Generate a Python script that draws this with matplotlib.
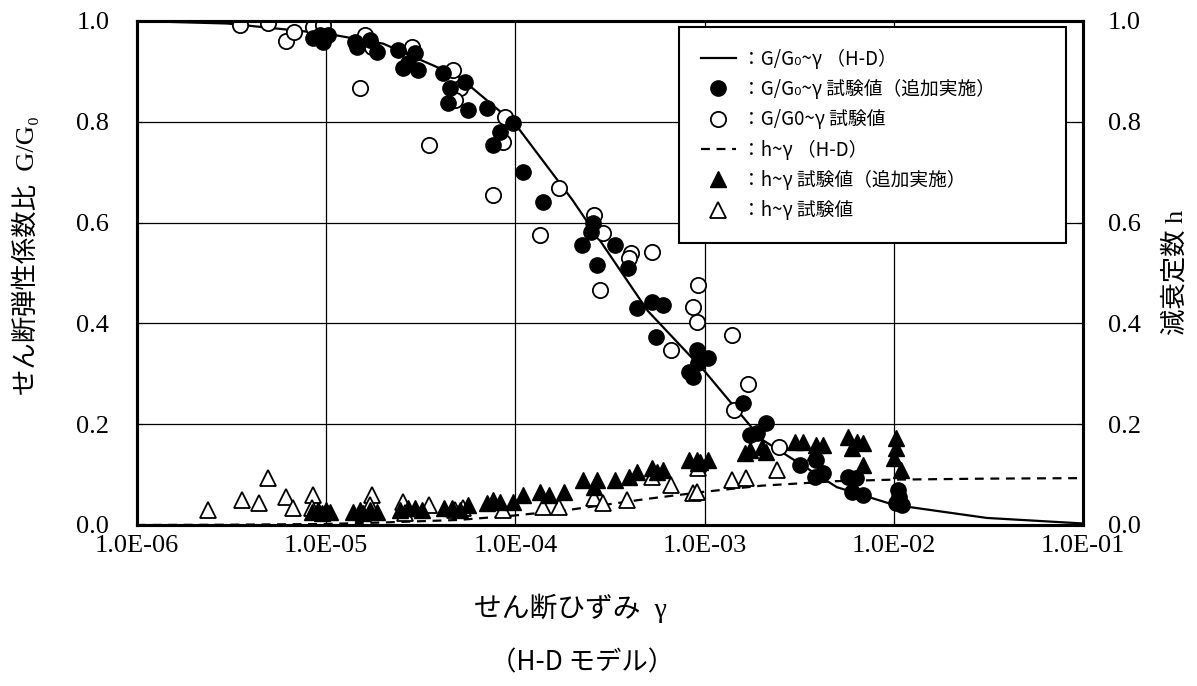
import matplotlib

matplotlib.use("Agg")

import matplotlib.pyplot as plt
from matplotlib.lines import Line2D
from matplotlib.font_manager import FontProperties

plt.rcParams['font.family'] = ['Liberation Serif', 'Noto Sans CJK JP', 'DejaVu Serif']

# H-D model curves
hd_strain = [1e-6, 3e-6, 1e-5, 2e-5, 5e-5, 1e-4, 2e-4, 5e-4, 1e-3, 2e-3, 5e-3, 1e-2, 3.1e-2, 1e-1]
hd_g = [1.0, 0.995, 0.975, 0.955, 0.89, 0.795, 0.645, 0.425, 0.305, 0.17, 0.075, 0.040, 0.014, 0.003]
hd_h = [0.0, 0.0005, 0.002, 0.005, 0.010, 0.019, 0.031, 0.052, 0.066, 0.078, 0.087, 0.090, 0.092, 0.093]

# G/G0 test values (additional)
g_add_x = [8.5e-6, 9.6e-6, 1.02e-5, 9.3e-6, 1.42e-5, 1.45e-5, 1.7e-5, 1.86e-5, 2.4e-5, 2.55e-5,
           2.95e-5, 3.05e-5, 2.7e-5, 4.14e-5, 4.5e-5, 4.4e-5, 5.4e-5, 5.6e-5, 7.1e-5, 8.3e-5,
           7.6e-5, 9.7e-5, 1.1e-4, 1.4e-4, 2.57e-4, 2.5e-4, 2.25e-4, 3.36e-4, 2.7e-4, 3.94e-4,
           5.3e-4, 6.0e-4, 4.4e-4, 5.5e-4, 9.1e-4, 1.04e-3, 8.7e-4, 8.3e-4, 9.2e-4, 1.6e-3,
           2.1e-3, 1.73e-3, 1.9e-3, 3.2e-3, 3.9e-3, 4.2e-3, 3.85e-3, 5.7e-3, 6.3e-3, 6.0e-3,
           6.9e-3, 1.05e-2, 1.03e-2, 1.1e-2, 1.07e-2]
g_add_y = [0.966, 0.958, 0.972, 0.972, 0.958, 0.948, 0.962, 0.938, 0.943, 0.907,
           0.936, 0.903, 0.917, 0.897, 0.867, 0.837, 0.879, 0.823, 0.827, 0.780,
           0.754, 0.798, 0.700, 0.641, 0.599, 0.581, 0.556, 0.556, 0.516, 0.510,
           0.442, 0.437, 0.431, 0.373, 0.347, 0.331, 0.294, 0.304, 0.321, 0.242,
           0.202, 0.179, 0.183, 0.119, 0.129, 0.103, 0.095, 0.095, 0.093, 0.065,
           0.060, 0.069, 0.044, 0.040, 0.056]

# G/G0 test values
g_test_x = [3.5e-6, 4.9e-6, 6.1e-6, 6.75e-6, 8.5e-6, 9.6e-6, 1.6e-5, 1.5e-5, 1.75e-5, 2.85e-5,
            4.7e-5, 5.1e-5, 4.8e-5, 3.5e-5, 8.8e-5, 8.6e-5, 7.6e-5, 1.35e-4, 1.7e-4, 2.6e-4,
            2.9e-4, 2.8e-4, 4.1e-4, 4.0e-4, 5.3e-4, 6.6e-4, 9.2e-4, 8.7e-4, 9.1e-4, 1.4e-3,
            1.43e-3, 1.7e-3, 2.47e-3]
g_test_y = [0.992, 0.996, 0.960, 0.978, 0.988, 0.992, 0.972, 0.867, 0.948, 0.948,
            0.903, 0.867, 0.843, 0.754, 0.810, 0.760, 0.655, 0.575, 0.669, 0.615,
            0.579, 0.466, 0.540, 0.530, 0.542, 0.347, 0.476, 0.433, 0.403, 0.377,
            0.228, 0.280, 0.155]

# h test values (additional)
h_add_x = [8.4e-6, 9.0e-6, 1.0e-5, 9.5e-6, 1.05e-5, 1.38e-5, 1.5e-5, 1.7e-5, 1.86e-5, 1.57e-5,
           2.45e-5, 2.7e-5, 2.95e-5, 3.2e-5, 4.2e-5, 4.6e-5, 5.6e-5, 5.1e-5, 7.1e-5, 7.6e-5,
           8.3e-5, 9.7e-5, 1.1e-4, 1.34e-4, 1.5e-4, 1.8e-4, 2.27e-4, 2.7e-4, 2.6e-4, 3.36e-4,
           4.0e-4, 4.4e-4, 5.3e-4, 5.6e-4, 6.0e-4, 8.3e-4, 9.1e-4, 1.04e-3, 9.2e-4, 9.5e-4,
           1.73e-3, 1.63e-3, 2.0e-3, 2.1e-3, 3.0e-3, 3.3e-3, 3.9e-3, 4.2e-3, 3.85e-3, 5.7e-3,
           6.0e-3, 6.4e-3, 6.9e-3, 6.9e-3, 1.03e-2, 1.03e-2, 1.0e-2, 1.09e-2]
h_add_y = [0.026, 0.030, 0.030, 0.024, 0.026, 0.026, 0.030, 0.030, 0.026, 0.024,
           0.030, 0.034, 0.034, 0.030, 0.034, 0.034, 0.040, 0.030, 0.044, 0.050,
           0.046, 0.046, 0.060, 0.065, 0.060, 0.065, 0.089, 0.089, 0.075, 0.089,
           0.095, 0.105, 0.113, 0.105, 0.109, 0.129, 0.129, 0.129, 0.123, 0.125,
           0.149, 0.143, 0.155, 0.145, 0.165, 0.165, 0.159, 0.159, 0.145, 0.175,
           0.153, 0.165, 0.163, 0.119, 0.173, 0.153, 0.133, 0.109]

# h test values
h_test_x = [2.37e-6, 3.6e-6, 4.4e-6, 4.9e-6, 6.1e-6, 6.7e-6, 8.5e-6, 8.4e-6, 1.75e-5, 1.7e-5,
            2.55e-5, 2.6e-5, 3.5e-5, 4.8e-5, 5.3e-5, 8.6e-5, 1.4e-4, 1.7e-4, 2.6e-4, 2.9e-4,
            3.9e-4, 5.3e-4, 6.6e-4, 8.7e-4, 9.1e-4, 9.2e-4, 1.4e-3, 1.65e-3, 2.4e-3]
h_test_y = [0.030, 0.050, 0.044, 0.093, 0.056, 0.034, 0.060, 0.034, 0.060, 0.040,
            0.046, 0.024, 0.040, 0.030, 0.034, 0.030, 0.036, 0.036, 0.054, 0.044,
            0.050, 0.095, 0.079, 0.063, 0.065, 0.113, 0.089, 0.093, 0.109]

x_ticks = [1e-6, 1e-5, 1e-4, 1e-3, 1e-2, 1e-1]
x_tick_labels = ["1.0E-06", "1.0E-05", "1.0E-04", "1.0E-03", "1.0E-02", "1.0E-01"]
y_ticks = [0.0, 0.2, 0.4, 0.6, 0.8, 1.0]
y_tick_labels = ["0.0", "0.2", "0.4", "0.6", "0.8", "1.0"]

fig = plt.figure(figsize=(11.97, 6.86), dpi=100)
ax = fig.add_axes([0.1145, 0.2347, 0.7903, 0.7347])
ax2 = ax.twinx()

ax.set_xscale('log')
ax.set_xlim(1e-6, 1e-1)
ax.set_ylim(0, 1)
ax2.set_ylim(0, 1)

ax.grid(True, color='black', linewidth=0.9)
ax.minorticks_off()
ax.set_axisbelow(True)

ax.plot(hd_strain, hd_g, color='black', linewidth=1.6, zorder=3)
ax2.plot(hd_strain, hd_h, color='black', linewidth=1.6, linestyle=(0, (4, 3)), zorder=3)

ax.plot(g_test_x, g_test_y, 'o', ms=11, mfc='white', mec='black', mew=1.3, zorder=4)
ax.plot(g_add_x, g_add_y, 'o', ms=11, mfc='black', mec='black', zorder=5)
ax2.plot(h_test_x, h_test_y, '^', ms=12, mfc='white', mec='black', mew=1.3, zorder=4)
ax2.plot(h_add_x, h_add_y, '^', ms=12, mfc='black', mec='black', zorder=5)

ax.set_xticks(x_ticks)
ax.set_xticklabels(x_tick_labels)
ax.set_yticks(y_ticks)
ax.set_yticklabels(y_tick_labels)
ax2.set_yticks(y_ticks)
ax2.set_yticklabels(y_tick_labels)

ax.tick_params(axis='x', direction='in', length=4, labelsize=19, pad=7)
ax.tick_params(axis='y', direction='in', length=4, labelsize=19, pad=20)
ax2.tick_params(axis='y', direction='in', length=4, labelsize=19, pad=18)

for a in (ax, ax2):
    for s in a.spines.values():
        s.set_linewidth(2.2)

# axis titles
fig.text(25 / 1197, 1 - 256 / 686, "せん断弾性係数比  G/G₀", fontsize=19,
         rotation=90, ha='center', va='center')
fig.text(1175 / 1197, 1 - 272 / 686, "減衰定数 h", fontsize=19,
         rotation=90, ha='center', va='center')
fig.text(570 / 1197, 1 - 608 / 686, "せん断ひずみ  γ", fontsize=20, ha='center', va='center')
fig.text(582 / 1197, 1 - 663 / 686, "（H-D モデル）", fontsize=19, ha='center', va='center',
         family=['Noto Sans CJK JP', 'DejaVu Sans'])

handles = [
    Line2D([], [], color='black', linewidth=1.6),
    Line2D([], [], marker='o', ms=11, color='black', linestyle='none'),
    Line2D([], [], marker='o', ms=11, mfc='white', mec='black', mew=1.3, linestyle='none'),
    Line2D([], [], color='black', linewidth=1.6, linestyle=(0, (4, 3))),
    Line2D([], [], marker='^', ms=12, color='black', linestyle='none'),
    Line2D([], [], marker='^', ms=12, mfc='white', mec='black', mew=1.3, linestyle='none'),
]
labels = [
    "：G/G₀~γ （H-D）",
    "：G/G₀~γ 試験値（追加実施）",
    "：G/G0~γ 試験値",
    "：h~γ （H-D）",
    "：h~γ 試験値（追加実施）",
    "：h~γ 試験値",
]
leg = ax2.legend(handles, labels, loc='upper left',
                 bbox_to_anchor=((679 - 137) / 946, 1 - 6 / 504, (1066 - 679) / 946, 0.0),
                 mode='expand', borderaxespad=0, frameon=True, fancybox=False,
                 edgecolor='black', framealpha=1, handlelength=1.9, handletextpad=0.3,
                 labelspacing=0.5, borderpad=1.15,
                 prop=FontProperties(family=['Noto Sans CJK JP', 'DejaVu Sans'], size=13.5))
leg.get_frame().set_linewidth(1.5)
leg.set_zorder(10)

plt.savefig("out.png", dpi=100)
